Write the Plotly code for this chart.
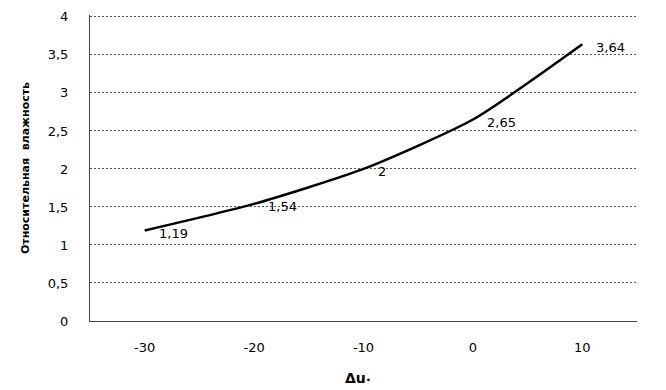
import plotly.graph_objects as go

x_vals = [-30, -20, -10, 0, 10]
y_vals = [1.19, 1.54, 2.0, 2.65, 3.64]
point_labels = ["1,19", "1,54", "2", "2,65", "3,64"]
x_tick_vals = [-30, -20, -10, 0, 10]
x_tick_text = ["-30", "-20", "-10", "0", "10"]
y_tick_vals = [0, 0.5, 1, 1.5, 2, 2.5, 3, 3.5, 4]
y_tick_text = ["0", "0,5", "1", "1,5", "2", "2,5", "3", "3,5", "4"]
y_title = "Относительная  влажность"
x_title = "<b>Δu</b><span style='font-size:9px'>•</span>"

fig = go.Figure()
fig.add_trace(go.Scatter(
    x=x_vals, y=y_vals, mode="lines",
    line=dict(color="black", width=2.5, shape="spline", smoothing=0.6),
    showlegend=False,
))
for xv, yv, lab in zip(x_vals, y_vals, point_labels):
    fig.add_annotation(
        x=xv, y=yv, text=lab, showarrow=False,
        xanchor="left", yanchor="middle", xshift=12, yshift=-3,
        font=dict(family="DejaVu Sans", size=13, color="black"),
    )
# x-axis title
fig.add_annotation(
    x=0.49, y=-0.185, xref="paper", yref="paper", text=x_title, showarrow=False,
    xanchor="center", yanchor="middle",
    font=dict(family="DejaVu Sans", size=14, color="black"),
)

fig.update_layout(
    width=666, height=390,
    margin=dict(l=90, r=29, t=15, b=69, autoexpand=False),
    paper_bgcolor="white", plot_bgcolor="white",
    separators=", ",
    font=dict(family="DejaVu Sans", size=13, color="black"),
)
fig.update_xaxes(
    range=[-35, 15], tickvals=x_tick_vals, ticktext=x_tick_text,
    showgrid=False, zeroline=False, automargin=False,
    showline=True, linecolor="#444", linewidth=1,
    ticks="", ticklabelstandoff=14,
)
fig.update_yaxes(
    range=[0, 4.025], tickvals=y_tick_vals, ticktext=y_tick_text,
    showgrid=True, gridcolor="#555", griddash="2px,2px", gridwidth=1,
    zeroline=False, showline=True, linecolor="#444", linewidth=1,
    ticks="", ticklabelstandoff=18, automargin=False,
    title=dict(text="<b>" + y_title + "</b>", font=dict(family="DejaVu Sans", size=11, color="black")),
)
fig.write_html("out.html", config={"displayModeBar": False},
               post_script="document.body.style.margin='0';")
